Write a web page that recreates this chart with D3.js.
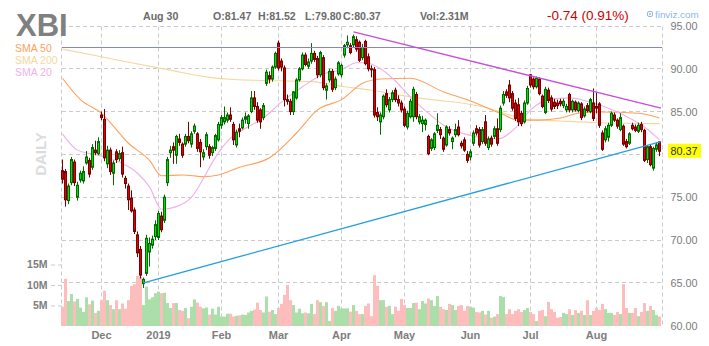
<!DOCTYPE html>
<html>
<head>
<meta charset="utf-8">
<script src="https://cdn.jsdelivr.net/npm/d3@7"></script>
<style>
  body { margin: 0; background: #fff; }
  svg text { font-family: "Liberation Sans", Arial, sans-serif; }
</style>
</head>
<body>
<script>

//Trading days, one list per month
var tradingDays = [
  ["2018-11", [13,14,15,16,19,20,21,23,26,27,28,29,30]],
  ["2018-12", [3,4,6,7,10,11,12,13,14,17,18,19,20,21,24,26,27,28,31]],
  ["2019-01", [2,3,4,7,8,9,10,11,14,15,16,17,18,22,23,24,25,28,29,30,31]],
  ["2019-02", [1,4,5,6,7,8,11,12,13,14,15,19,20,21,22,25,26,27,28]],
  ["2019-03", [1,4,5,6,7,8,11,12,13,14,15,18,19,20,21,22,25,26,27,28,29]],
  ["2019-04", [1,2,3,4,5,8,9,10,11,12,15,16,17,18,22,23,24,25,26,29,30]],
  ["2019-05", [1,2,3,6,7,8,9,10,13,14,15,16,17,20,21,22,23,24,28,29,30,31]],
  ["2019-06", [3,4,5,6,7,10,11,12,13,14,17,18,19,20,21,24,25,26,27,28]],
  ["2019-07", [1,2,3,5,8,9,10,11,12,15,16,17,18,19,22,23,24,25,26,29,30,31]],
  ["2019-08", [1,2,5,6,7,8,9,12,13,14,15,16,19,20,21,22,23,26,27,28,29,30]]
];

//OHLC
var open = [
  78.1,78.0,74.6,76.7,79.1,75.0,77.0,76.9,79.0,79.3,78.5,80.5,80.1,
  84.6,84.1,78.9,80.5,77.8,80.3,79.5,80.2,77.2,76.3,74.9,73.5,70.6,68.9,64.9,66.1,68.6,69.4,70.4,
  70.3,72.8,72.3,76.7,80.2,80.9,79.9,81.8,81.2,81.2,82.1,81.2,82.7,82.4,81.4,79.7,80.9,80.9,80.2,80.7,81.7,
  83.4,83.8,84.0,84.6,83.5,81.1,83.0,83.1,84.1,83.6,85.0,86.6,85.6,85.2,84.3,88.3,89.2,88.8,90.2,
  93.0,90.9,90.1,86.4,86.2,85.0,86.6,88.7,90.0,91.6,90.3,90.9,91.8,91.2,89.3,91.3,87.5,88.7,89.7,87.8,89.4,
  89.3,91.6,92.8,92.7,92.8,93.4,93.1,91.3,93.2,91.4,90.0,89.9,84.9,83.8,84.4,87.1,85.2,86.4,87.5,86.4,86.0,
  85.3,83.2,84.4,84.4,87.0,83.8,83.6,83.5,82.1,80.7,80.8,82.8,82.9,81.9,81.1,82.9,81.5,82.3,83.2,81.3,81.7,80.0,
  79.7,81.3,83.0,82.9,81.5,83.8,80.8,81.9,82.1,83.0,82.9,86.0,87.3,88.1,87.1,86.0,85.8,84.8,83.8,86.0,
  89.3,88.8,87.9,88.8,86.8,84.9,87.5,86.6,86.1,86.0,86.2,85.7,85.2,87.0,85.2,86.1,85.1,85.9,84.5,85.7,85.0,86.0,
  85.6,85.9,82.5,81.7,82.0,83.4,84.6,84.0,82.9,83.3,81.5,81.3,83.4,83.2,82.7,83.5,82.8,79.4,80.9,78.4,80.6,81.47
];
var high = [
  79.4,78.3,76.6,79.7,79.4,76.8,78.1,78.6,80.4,79.6,81.2,81.6,82.0,
  85.0,85.3,81.0,80.8,79.3,80.6,80.5,80.9,77.5,76.6,75.8,73.8,71.0,69.3,65.6,70.6,70.3,70.5,72.3,
  73.4,73.3,75.3,79.7,81.0,81.4,82.3,82.4,81.4,82.4,83.8,82.7,83.6,82.6,81.8,80.6,82.6,81.2,81.0,82.4,83.8,
  84.6,85.6,84.9,85.5,83.8,82.9,83.6,84.3,84.9,84.7,87.4,87.4,86.1,85.4,86.0,89.9,89.7,90.4,92.0,
  93.3,91.2,90.4,87.0,86.5,87.4,88.9,90.2,91.9,91.9,91.2,93.0,92.1,91.5,92.1,91.6,88.3,90.0,90.0,89.1,90.9,
  90.6,92.9,93.9,93.0,94.0,93.8,93.3,92.9,93.4,91.8,90.4,90.2,85.5,84.9,87.0,87.6,86.7,87.5,87.8,86.9,86.3,
  85.6,85.1,86.5,87.9,87.3,84.7,84.5,84.2,82.3,81.9,82.6,84.8,83.2,82.1,83.4,83.3,82.1,83.6,84.0,81.6,82.0,80.4,
  80.6,82.8,83.4,83.2,83.2,84.6,82.1,82.2,83.3,84.2,85.7,87.4,87.6,88.7,87.4,86.4,86.6,85.1,86.3,88.0,
  89.4,89.0,89.1,89.0,87.0,87.9,87.8,86.9,86.5,86.4,86.5,86.5,85.9,87.2,86.4,86.3,86.2,86.1,85.6,86.0,86.6,87.7,
  87.2,86.1,82.8,83.3,83.7,85.0,84.9,84.2,84.8,83.5,81.8,82.6,83.7,83.5,83.7,83.8,83.0,81.1,81.2,80.9,81.4,81.52
];
var low = [
  76.6,73.9,74.2,76.4,76.3,74.6,76.7,76.6,78.8,77.3,78.2,79.9,79.9,
  84.0,79.2,78.4,77.6,76.4,79.0,79.2,77.3,76.0,73.5,73.2,70.7,68.0,65.5,64.4,65.8,66.9,69.0,70.0,
  70.0,70.9,72.0,76.3,79.6,78.9,78.9,81.0,79.6,80.9,81.3,80.8,82.4,80.3,78.5,79.3,80.5,79.5,79.8,80.4,81.5,
  83.0,83.5,83.7,83.8,81.1,80.8,82.0,82.9,83.6,83.0,84.8,85.2,83.7,83.0,84.0,88.0,88.3,88.5,90.0,
  89.8,89.7,85.6,85.8,84.6,84.6,86.4,88.5,89.8,90.3,90.0,90.6,90.8,88.9,89.0,87.5,86.4,88.4,87.3,87.5,89.2,
  89.0,91.3,92.4,91.7,92.5,92.0,90.8,91.0,90.4,89.7,89.0,84.3,83.9,82.3,84.1,85.5,84.9,86.1,86.1,85.6,84.9,
  83.2,82.9,84.2,83.8,84.1,83.5,82.6,82.8,79.9,80.4,80.5,82.5,81.8,80.3,80.9,82.2,80.6,82.0,82.1,80.7,80.3,79.0,
  79.3,81.0,82.2,80.8,81.2,81.0,80.5,80.9,81.8,81.0,82.6,85.7,86.6,86.1,85.1,83.9,83.3,83.3,83.6,85.8,
  87.8,87.6,87.7,86.9,85.4,84.7,86.0,85.0,85.3,85.3,85.6,85.4,84.9,84.9,84.9,85.0,84.9,84.0,84.3,84.9,84.8,83.9,
  84.8,83.1,80.4,81.4,81.5,83.2,83.8,83.0,82.7,81.0,80.7,81.1,82.8,82.6,82.5,82.6,79.1,79.0,78.6,78.1,80.3,79.80
];
var close = [
  77.1,74.7,76.3,79.4,76.7,76.4,77.8,78.0,79.7,77.7,80.8,80.2,81.5,
  84.3,79.6,80.5,78.0,79.0,79.4,80.1,77.7,76.6,74.7,73.4,71.0,68.5,65.9,65.4,70.2,69.6,70.1,71.8,
  73.1,71.2,75.0,79.4,80.5,80.5,82.1,81.4,79.9,82.1,81.6,82.4,83.3,80.7,80.3,80.2,82.3,79.9,80.8,82.2,83.5,
  84.3,84.3,84.6,84.1,81.7,82.6,82.7,84.0,84.4,84.5,86.6,85.6,84.0,83.8,85.7,89.6,88.8,90.2,91.8,
  90.1,90.2,86.4,86.2,85.0,87.3,88.7,90.0,91.6,90.5,90.8,91.8,91.1,89.3,91.9,87.8,88.0,89.7,87.6,88.8,90.7,
  90.4,92.7,93.1,91.9,93.75,92.3,91.0,92.5,90.6,90.0,89.9,84.6,84.4,84.6,86.8,85.8,86.4,87.2,86.4,86.0,85.2,
  83.4,84.8,86.2,87.6,84.4,84.4,84.0,84.0,80.1,81.7,82.4,83.4,82.3,80.6,83.2,82.5,81.9,82.9,82.3,81.0,80.5,79.3,
  80.3,82.5,82.5,81.1,82.9,81.3,81.8,81.2,83.0,81.3,85.4,87.0,86.9,86.6,85.4,84.2,83.8,83.6,86.0,87.7,
  88.1,87.9,88.9,87.1,85.6,87.6,86.3,85.3,85.6,85.7,85.9,86.2,85.6,85.2,86.2,85.2,86.0,84.3,85.3,85.1,86.4,84.2,
  85.4,83.4,80.6,83.0,83.4,84.8,84.0,83.3,84.3,81.2,80.9,82.4,83.0,82.8,83.4,82.9,79.3,80.9,78.8,80.7,81.11,80.37
];
//Volume, millions
var volume = [
  4.7,11.5,6.1,7.8,6.0,6.6,4.5,3.4,7.0,5.3,6.2,3.2,3.7,
  6.3,8.6,6.3,5.1,4.1,6.3,4.1,5.5,4.2,6.3,9.8,10.2,12.2,12.0,5.1,9.6,6.5,7.0,8.0,
  8.4,8.0,8.1,5.6,4.4,5.6,5.6,3.9,3.7,4.4,1.9,4.7,6.5,5.7,4.7,4.3,4.5,2.8,4.2,2.8,4.7,
  2.3,2.3,3.0,3.0,2.3,2.5,2.6,2.8,2.7,3.3,3.7,4.0,5.7,3.9,3.3,7.2,3.5,3.9,2.9,
  4.4,5.4,7.6,10.0,6.3,5.1,3.3,4.2,3.1,3.3,3.1,5.4,2.9,6.3,5.8,4.9,5.8,1.2,4.4,3.7,4.9,
  4.3,4.3,4.3,3.5,5.1,3.7,2.9,2.9,4.9,5.5,2.4,12.4,9.8,6.3,6.3,4.7,4.9,2.9,4.7,3.7,6.6,
  5.1,4.4,4.4,5.6,5.7,4.1,6.1,5.5,6.7,6.3,4.9,7.3,4.7,4.1,3.9,5.4,5.1,3.9,4.9,5.1,3.7,4.9,
  4.7,4.5,3.4,3.3,3.7,2.8,3.7,2.0,2.3,2.9,7.3,7.1,2.9,4.1,2.9,3.7,4.1,3.4,3.9,4.4,
  3.4,2.9,1.2,3.7,3.9,2.4,5.9,4.1,3.4,2.0,2.2,3.2,2.9,4.1,2.7,3.9,3.2,3.7,2.7,6.3,2.7,3.7,
  4.4,3.9,5.4,4.1,3.2,3.2,2.7,3.4,2.9,10.2,4.4,3.2,3.2,4.4,2.4,3.4,5.6,3.7,4.9,3.9,2.7,2.31
];

//Moving averages, read at a few bars: [bar index, value]
var sma50 = [[0,88.9],[6,86.4],[13,84.8],[22,81.3],[29,79.3],[33,77.5],[40,77.6],[47,77.4],[52,77.6],
  [59,78.5],[69,79.6],[78,82.5],[85,85.2],[93,86.4],[100,88.3],[106,88.8],[116,88.9],[127,87.3],
  [134,86.5],[146,84.8],[152,84.0],[159,84.0],[166,84.25],[172,84.8],[179,84.95],[192,84.8],[199,84.25]];
var sma200 = [[0,92.3],[13,91.4],[23,90.7],[35,89.9],[49,89.0],[57,88.75],[72,88.6],[83,88.5],[94,87.9],
  [103,87.5],[113,86.9],[123,86.4],[133,86.0],[143,85.3],[149,84.6],[155,84.1],[166,83.9],[179,83.7],[199,83.6]];
var sma20 = [[0,82.4],[5,80.5],[12,79.9],[19,79.1],[25,77.8],[29,76.2],[33,73.6],[38,73.9],[43,75.0],
  [47,77.2],[50,79.1],[56,81.9],[60,82.85],[67,84.25],[73,86.1],[80,87.9],[87,89.4],[93,89.9],[98,90.7],
  [101,90.7],[106,90.0],[110,88.9],[116,86.7],[122,84.8],[128,83.2],[134,82.4],[139,82.0],[145,81.8],
  [151,83.1],[156,85.2],[162,86.4],[169,86.6],[176,86.1],[182,85.4],[187,84.6],[194,83.2],[199,81.7]];

//Drawn trendlines: [bar index, price]
var resistanceLevel = 92.5;
var upperTrend = [[97,94.3],[199.5,85.4]];
var lowerTrend = [[27,65.0],[199.5,81.5]];

var priceTicks = [60,65,70,75,80,85,90,95];
var volTicks = [5,10,15];
var monthStarts = ["2018-12-03","2019-01-02","2019-02-01","2019-03-01","2019-04-01","2019-05-01","2019-06-03","2019-07-01","2019-08-01"];
var monthLabels = ["Dec","2019","Feb","Mar","Apr","May","Jun","Jul","Aug"];

var lastClose = 80.37;

//build date strings
var dates = [];
tradingDays.forEach(function(m){
  m[1].forEach(function(d){ dates.push(m[0] + "-" + (d < 10 ? "0" + d : d)); });
});

var width = 709, height = 346;
var left = 61, right = 661;

var svg = d3.select("body").append("svg")
    .attr("width", width)
    .attr("height", height);

var x = d3.scaleBand().domain(dates).range([left, right]);
var xc = function(i){ return x(dates[i]) + x.bandwidth()/2; };
var xi = d3.scaleLinear().domain([0, dates.length - 1]).range([xc(0), xc(dates.length - 1)]);

var y = d3.scaleLinear().domain([60, 95]).range([325.6, 26]);
var yv = d3.scaleLinear().domain([0, 15]).range([326, 264.5]);

var crisp = function(v){ return Math.round(v - 0.5) + 0.5; };

//grid
var grid = svg.append("g").attr("class","grid")
    .attr("stroke","#cbcbcb")
    .attr("stroke-dasharray","4,3");

grid.selectAll("line.h")
    .data(priceTicks.filter(function(p){ return p > 60; }))
    .enter().append("line")
    .attr("class","h")
    .attr("x1", 62).attr("x2", 662)
    .attr("y1", function(d){ return crisp(y(d)); })
    .attr("y2", function(d){ return crisp(y(d)); });

var vlines = [61.5].concat(monthStarts.map(function(d){ return crisp(x(d) + x.bandwidth()/2); })).concat([662.5]);
grid.selectAll("line.v")
    .data(vlines)
    .enter().append("line")
    .attr("class","v")
    .attr("x1", function(d){ return d; })
    .attr("x2", function(d){ return d; })
    .attr("y1", crisp(y(95)))
    .attr("y2", 326);

//volume bars
var isUp = function(i){ return close[i] >= open[i]; };

svg.append("g").selectAll("rect")
    .data(volume)
    .enter().append("rect")
    .attr("x", function(d,i){ return x(dates[i]); })
    .attr("width", x.bandwidth())
    .attr("y", function(d){ return yv(d); })
    .attr("height", function(d){ return yv(0) - yv(d); })
    .attr("fill", function(d,i){ return isUp(i) ? "#abdea8" : "#fdbdbd"; });

//moving averages
var maLine = d3.line()
    .x(function(d){ return xi(d[0]); })
    .y(function(d){ return y(d[1]); })
    .curve(d3.curveMonotoneX);

[[sma200, "#f5d79e"], [sma50, "#ffa05a"], [sma20, "#f3aee8"]].forEach(function(s){
  svg.append("path")
      .attr("d", maLine(s[0]))
      .attr("fill","none")
      .attr("stroke", s[1])
      .attr("stroke-width", 1.1);
});

//candles
var candles = svg.append("g").selectAll("g")
    .data(dates)
    .enter().append("g");

candles.append("line")
    .attr("x1", function(d,i){ return xc(i); })
    .attr("x2", function(d,i){ return xc(i); })
    .attr("y1", function(d,i){ return y(high[i]); })
    .attr("y2", function(d,i){ return y(low[i]); })
    .attr("stroke", function(d,i){ return isUp(i) ? "#006a00" : "#7a0000"; });

candles.append("rect")
    .attr("x", function(d,i){ return xc(i) - 1; })
    .attr("width", 2)
    .attr("y", function(d,i){ return y(Math.max(open[i], close[i])); })
    .attr("height", function(d,i){ return Math.max(1, Math.abs(y(open[i]) - y(close[i]))); })
    .attr("fill", function(d,i){ return isUp(i) ? "#00e000" : "#e00000"; })
    .attr("stroke", function(d,i){ return isUp(i) ? "#006a00" : "#7a0000"; })
    .attr("stroke-width", 1);

//trendlines
svg.append("line")
    .attr("x1", 62).attr("x2", 662)
    .attr("y1", crisp(y(resistanceLevel))).attr("y2", crisp(y(resistanceLevel)))
    .attr("stroke","#8585d6").attr("stroke-width",1.2);

var tLine = d3.line()
    .x(function(d){ return xi(d[0]); })
    .y(function(d){ return y(d[1]); });

svg.append("path").attr("d", tLine(upperTrend))
    .attr("stroke","#c64fd8").attr("stroke-width",1.3).attr("fill","none");
svg.append("path").attr("d", tLine(lowerTrend))
    .attr("stroke","#239fe0").attr("stroke-width",1.3).attr("fill","none");

//price axis (right); the label under the last-price tag is left out
var labelTicks = priceTicks.filter(function(p){ return Math.abs(p - lastClose) > 1.5; });
var yAxis = svg.append("g")
    .attr("transform","translate(662,0)")
    .call(d3.axisRight(y).tickValues(labelTicks).tickFormat(d3.format(".2f")).tickSize(0).tickPadding(8.5));
yAxis.select(".domain").remove();
yAxis.selectAll("text")
    .attr("fill","#7a7a7a")
    .style("font-size","10.8px")
    .style("font-family","'Liberation Sans', Arial, sans-serif");

//last price tag
svg.append("rect")
    .attr("x", 668).attr("y", y(lastClose) - 7.5)
    .attr("width", 33).attr("height", 14)
    .attr("fill", "#ffff00");
svg.append("text")
    .attr("x", 670.5).attr("y", y(lastClose)).attr("dy","0.35em")
    .attr("fill","#333")
    .style("font-size","10.8px")
    .text(d3.format(".2f")(lastClose));

//volume axis (left)
var vAxis = svg.append("g")
    .attr("transform","translate(62,0)")
    .call(d3.axisLeft(yv).tickValues(volTicks).tickFormat(function(d){ return d + "M"; }).tickSize(12).tickPadding(2.5));
vAxis.select(".domain").remove();
vAxis.selectAll("line").attr("stroke","#cbcbcb").attr("stroke-dasharray","4,3");
vAxis.selectAll("text")
    .attr("fill","#7d7d7d")
    .style("font-size","10.5px")
    .style("font-weight","bold")
    .style("font-family","'Liberation Sans', Arial, sans-serif");

//month axis (bottom)
var xAxis = svg.append("g")
    .attr("transform","translate(0,326)")
    .call(d3.axisBottom(x).tickValues(monthStarts).tickSize(0).tickPadding(5.5)
      .tickFormat(function(d){ return monthLabels[monthStarts.indexOf(d)]; }));
xAxis.select(".domain").remove();
xAxis.selectAll("text")
    .attr("fill","#7d7d7d")
    .style("font-size","11px")
    .style("font-weight","bold")
    .style("font-family","'Liberation Sans', Arial, sans-serif");

//DAILY
svg.append("text")
    .attr("transform","translate(45.5,154) rotate(-90)")
    .attr("text-anchor","middle")
    .attr("fill","#dcdcdc")
    .style("font-size","15px")
    .style("font-weight","bold")
    .text("DAILY");

//header
svg.append("text")
    .attr("x", 16).attr("y", 35.7)
    .attr("fill","#808080")
    .style("font-size","31px")
    .style("font-weight","bold")
    .text("XBI");

var smaLabels = [["SMA 50","#ffa05a"],["SMA 200","#f5d6a2"],["SMA 20","#f3b0e8"]];
svg.selectAll("text.sma")
    .data(smaLabels)
    .enter().append("text")
    .attr("class","sma")
    .attr("x", 15)
    .attr("y", function(d,i){ return 52 + 12*i; })
    .attr("fill", function(d){ return d[1]; })
    .style("font-size","10.5px")
    .text(function(d){ return d[0]; });

var info = [["Aug 30",143],["O:81.47",213],["H:81.52",258],["L:79.80",305],["C:80.37",343],["Vol:2.31M",420]];
svg.selectAll("text.info")
    .data(info)
    .enter().append("text")
    .attr("class","info")
    .attr("x", function(d){ return d[1]; })
    .attr("y", 20)
    .attr("fill","#6b6b6b")
    .style("font-size","10.6px")
    .style("font-weight","bold")
    .text(function(d){ return d[0]; });

svg.append("text")
    .attr("x", 547).attr("y", 20)
    .attr("fill","#cc0000")
    .style("font-size","13.5px")
    .text("-0.74 (0.91%)");

//finviz mark
svg.append("rect")
    .attr("x", 647.5).attr("y", 11.5).attr("width", 5).attr("height", 5).attr("rx",1.5)
    .attr("fill","none").attr("stroke","#8ab8e6");
svg.append("circle").attr("cx",650).attr("cy",14).attr("r",1).attr("fill","#8ab8e6");
svg.append("text")
    .attr("x", 655).attr("y", 17.5)
    .attr("fill","#8ab8e6")
    .style("font-size","9.8px")
    .text("finviz.com");

</script>
</body>
</html>
